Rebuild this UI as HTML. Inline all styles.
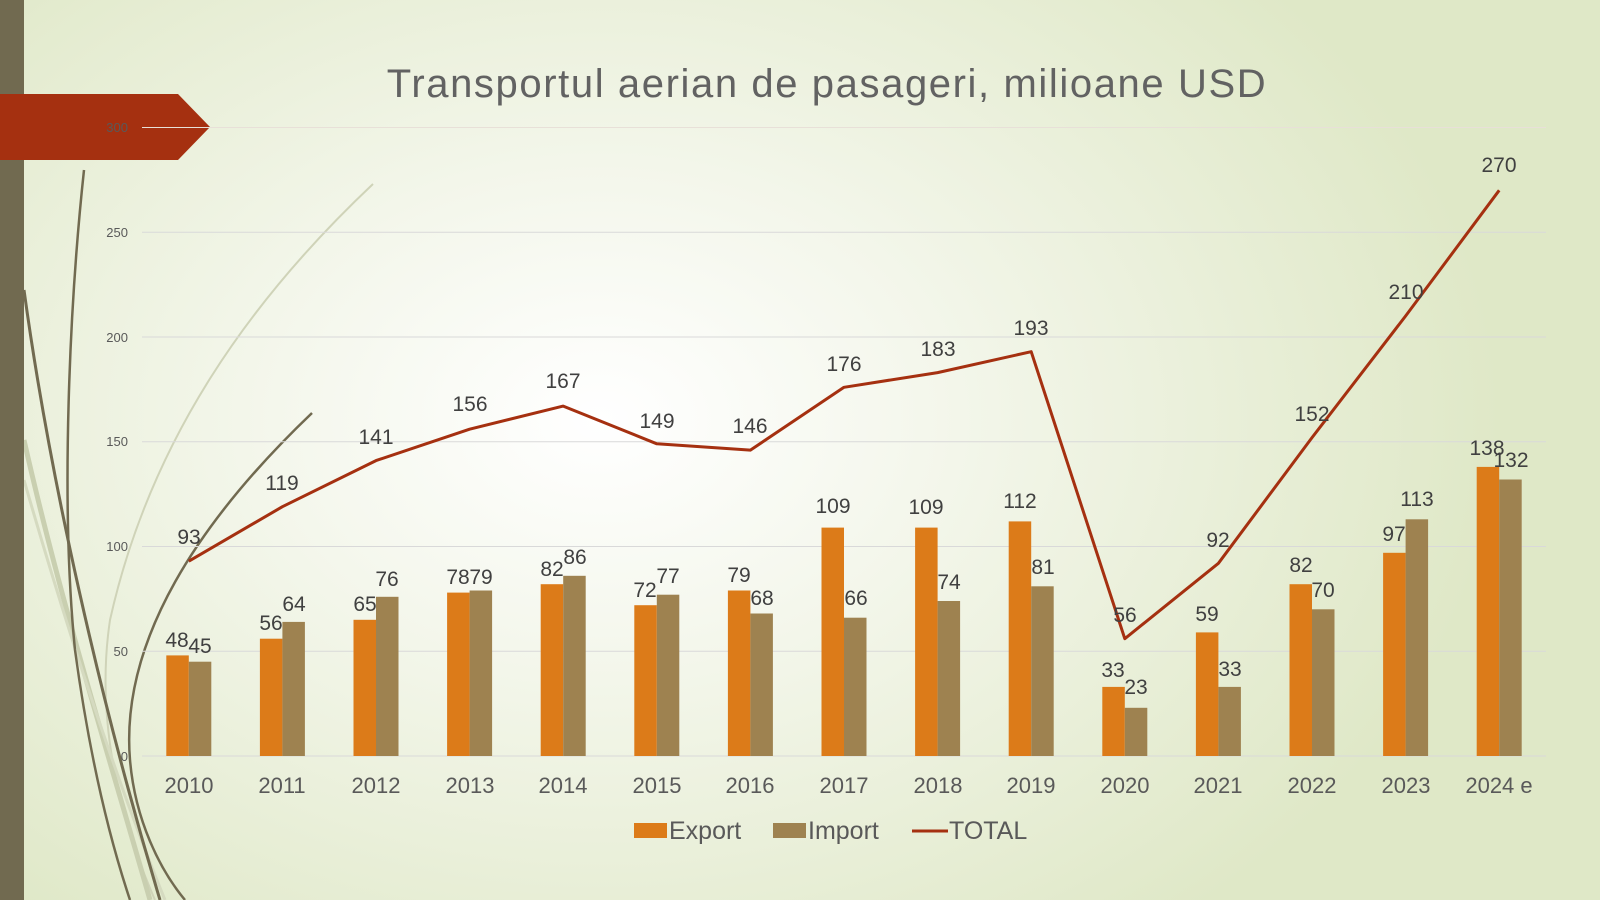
<!DOCTYPE html>
<html><head><meta charset="utf-8"><style>
html,body{margin:0;padding:0;width:1600px;height:900px;overflow:hidden;}
body{background:radial-gradient(ellipse 900px 650px at 600px 420px,#ffffff 0%,#f3f6ea 40%,#dfe8c7 100%);font-family:"Liberation Sans",sans-serif;}
svg{position:absolute;left:0;top:0;}
</style></head><body>
<svg width="1600" height="900" viewBox="0 0 1600 900">
<g fill="none">
<path d="M373,184 C250,300 150,440 110,620 C95,720 120,820 155,900" stroke="#cfd3b8" stroke-width="2"/>
<path d="M24,440 C60,600 110,760 150,900" stroke="#c9cfb0" stroke-width="5"/>
<path d="M24,480 C70,640 120,790 165,900" stroke="#d5dac0" stroke-width="3"/>
<path d="M84,170 C70,300 60,500 75,650 C90,760 110,840 130,900" stroke="#716a50" stroke-width="2.5"/>
<path d="M312,413 C200,520 120,640 130,760 C135,820 160,870 185,900" stroke="#716a50" stroke-width="2.5"/>
<path d="M24,290 C50,480 100,700 160,900" stroke="#716a50" stroke-width="3"/>
</g>
<rect x="0" y="0" width="24" height="900" fill="#716a50"/>
<polygon points="0,94 178,94 210,127 178,160 0,160" fill="#a53010"/>
<g stroke="#d9d9d9" stroke-width="1">
<line x1="142" y1="127.5" x2="1546" y2="127.5" stroke="#e8e0d8"/>
<line x1="142" y1="232.3" x2="1546" y2="232.3"/>
<line x1="142" y1="337" x2="1546" y2="337"/>
<line x1="142" y1="441.8" x2="1546" y2="441.8"/>
<line x1="142" y1="546.5" x2="1546" y2="546.5"/>
<line x1="142" y1="651.3" x2="1546" y2="651.3"/>
<line x1="142" y1="756" x2="1546" y2="756"/>
</g>
<g font-size="13" fill="#595959" text-anchor="end">
<text x="128" y="132">300</text><text x="128" y="237">250</text><text x="128" y="342">200</text>
<text x="128" y="446">150</text><text x="128" y="551">100</text><text x="128" y="656">50</text><text x="128" y="761">0</text>
</g>
<text x="827" y="97" font-size="40" fill="#626262" text-anchor="middle" letter-spacing="1.6">Transportul aerian de pasageri, milioane USD</text>
<g fill="#dc7b19">
<rect x="166.3" y="655.4" width="22.5" height="100.6"/>
<rect x="259.9" y="638.7" width="22.5" height="117.3"/>
<rect x="353.5" y="619.8" width="22.5" height="136.2"/>
<rect x="447.1" y="592.6" width="22.5" height="163.4"/>
<rect x="540.7" y="584.2" width="22.5" height="171.8"/>
<rect x="634.3" y="605.2" width="22.5" height="150.8"/>
<rect x="727.9" y="590.5" width="22.5" height="165.5"/>
<rect x="821.5" y="527.6" width="22.5" height="228.4"/>
<rect x="915.1" y="527.6" width="22.5" height="228.4"/>
<rect x="1008.7" y="521.4" width="22.5" height="234.6"/>
<rect x="1102.3" y="686.9" width="22.5" height="69.1"/>
<rect x="1195.9" y="632.4" width="22.5" height="123.6"/>
<rect x="1289.5" y="584.2" width="22.5" height="171.8"/>
<rect x="1383.1" y="552.8" width="22.5" height="203.2"/>
<rect x="1476.7" y="466.9" width="22.5" height="289.1"/>
</g>
<g fill="#9e8250">
<rect x="188.8" y="661.7" width="22.5" height="94.3"/>
<rect x="282.4" y="621.9" width="22.5" height="134.1"/>
<rect x="376" y="596.8" width="22.5" height="159.2"/>
<rect x="469.6" y="590.5" width="22.5" height="165.5"/>
<rect x="563.2" y="575.8" width="22.5" height="180.2"/>
<rect x="656.8" y="594.7" width="22.5" height="161.3"/>
<rect x="750.4" y="613.5" width="22.5" height="142.5"/>
<rect x="844" y="617.7" width="22.5" height="138.3"/>
<rect x="937.6" y="601" width="22.5" height="155"/>
<rect x="1031.2" y="586.3" width="22.5" height="169.7"/>
<rect x="1124.8" y="707.8" width="22.5" height="48.2"/>
<rect x="1218.4" y="686.9" width="22.5" height="69.1"/>
<rect x="1312" y="609.3" width="22.5" height="146.7"/>
<rect x="1405.6" y="519.3" width="22.5" height="236.7"/>
<rect x="1499.2" y="479.5" width="22.5" height="276.5"/>
</g>
<polyline fill="none" stroke="#a53010" stroke-width="3" stroke-linejoin="round" points="188.8,561.2 282.4,506.7 376,460.6 469.6,429.2 563.2,406.1 656.8,443.8 750.4,450.1 844,387.3 937.6,372.6 1031.2,351.7 1124.8,638.7 1218.4,563.3 1312,437.6 1405.6,316 1499.2,190.3"/>
<g font-size="21" fill="#404040" text-anchor="middle">
<text x="177" y="647">48</text><text x="271" y="630">56</text><text x="365" y="611">65</text>
<text x="458" y="584">78</text><text x="552" y="576">82</text><text x="645" y="597">72</text>
<text x="739" y="582">79</text><text x="833" y="513">109</text><text x="926" y="514">109</text>
<text x="1020" y="508">112</text><text x="1113" y="677">33</text><text x="1207" y="621">59</text>
<text x="1301" y="572">82</text><text x="1394" y="541">97</text><text x="1487" y="455">138</text>
<text x="200" y="653">45</text><text x="294" y="611">64</text><text x="387" y="586">76</text>
<text x="481" y="584">79</text><text x="575" y="564">86</text><text x="668" y="583">77</text>
<text x="762" y="605">68</text><text x="856" y="605">66</text><text x="949" y="589">74</text>
<text x="1043" y="574">81</text><text x="1136" y="694">23</text><text x="1230" y="676">33</text>
<text x="1323" y="597">70</text><text x="1417" y="506">113</text><text x="1511" y="467">132</text>
<text x="189" y="544">93</text><text x="282" y="490">119</text><text x="376" y="444">141</text>
<text x="470" y="411">156</text><text x="563" y="388">167</text><text x="657" y="428">149</text>
<text x="750" y="433">146</text><text x="844" y="371">176</text><text x="938" y="356">183</text>
<text x="1031" y="335">193</text><text x="1125" y="622">56</text><text x="1218" y="547">92</text>
<text x="1312" y="421">152</text><text x="1406" y="299">210</text><text x="1499" y="172">270</text>
</g>
<g font-size="22" fill="#595959" text-anchor="middle">
<text x="189" y="793">2010</text><text x="282" y="793">2011</text><text x="376" y="793">2012</text>
<text x="470" y="793">2013</text><text x="563" y="793">2014</text><text x="657" y="793">2015</text>
<text x="750" y="793">2016</text><text x="844" y="793">2017</text><text x="938" y="793">2018</text>
<text x="1031" y="793">2019</text><text x="1125" y="793">2020</text><text x="1218" y="793">2021</text>
<text x="1312" y="793">2022</text><text x="1406" y="793">2023</text><text x="1499" y="793">2024 e</text>
</g>
<g font-size="25" fill="#595959">
<rect x="634" y="823" width="33" height="15" fill="#dc7b19"/>
<text x="669" y="839">Export</text>
<rect x="773" y="823" width="33" height="15" fill="#9e8250"/>
<text x="808" y="839">Import</text>
<line x1="912" y1="831" x2="948" y2="831" stroke="#a53010" stroke-width="3"/>
<text x="949" y="839">TOTAL</text>
</g>
</svg>
</body></html>
